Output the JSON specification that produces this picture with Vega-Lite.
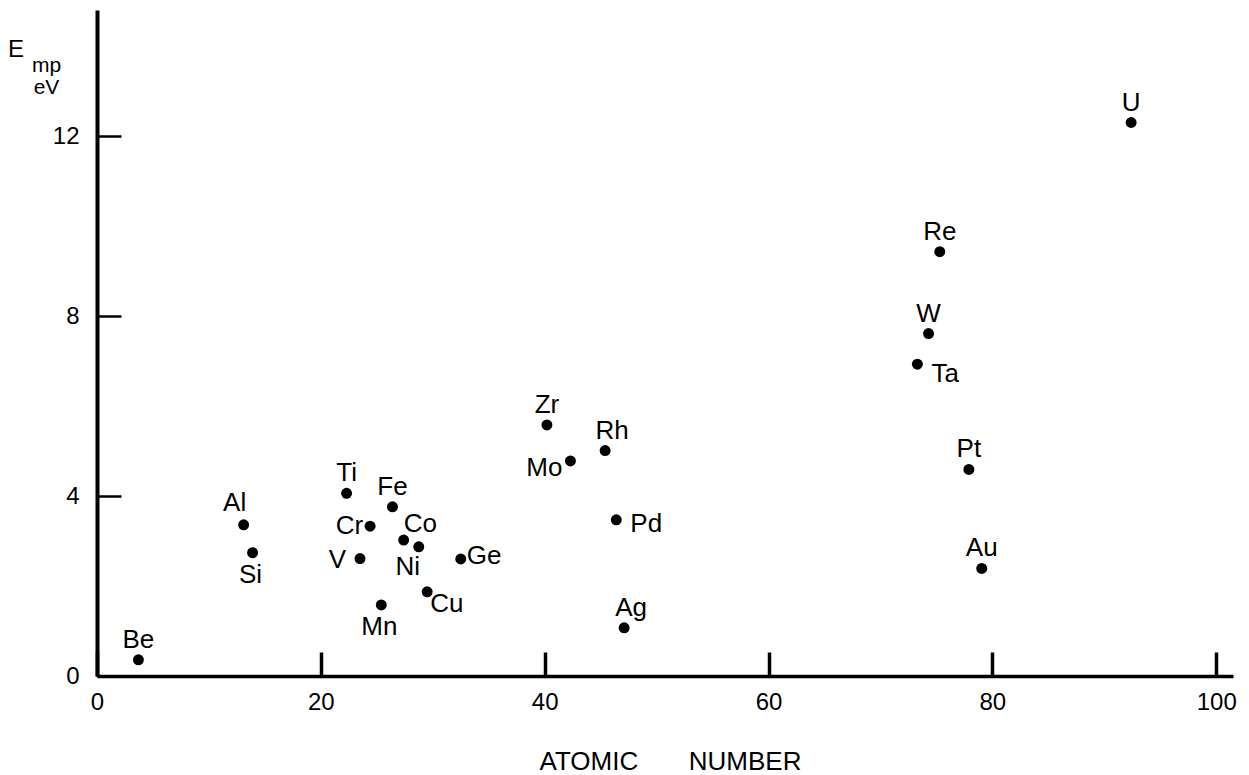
{
  "$schema": "https://vega.github.io/schema/vega-lite/v6.json",
  "autosize": {"type": "none"},
  "padding": {"left": 97, "top": 10, "right": 16, "bottom": 99},
  "width": 1136,
  "height": 666,
  "background": "white",
  "title": {
    "text": "E",
    "anchor": "start",
    "frame": "group",
    "orient": "top",
    "offset": 0,
    "baseline": "alphabetic",
    "dx": -89,
    "dy": 71,
    "font": "Liberation Sans",
    "fontSize": 24,
    "fontWeight": "normal",
    "color": "black"
  },
  "config": {
    "view": {"stroke": null},
    "axis": {
      "grid": false,
      "domainColor": "black",
      "tickColor": "black",
      "labelColor": "black",
      "titleColor": "black",
      "labelFont": "Liberation Sans",
      "titleFont": "Liberation Sans",
      "labelFontSize": 24,
      "titleFontWeight": "normal"
    },
    "text": {"font": "Liberation Sans", "fontSize": 26, "color": "black"}
  },
  "data": {
    "values": [
      {"element": "Be", "Z": 3.7, "E": 0.36},
      {"element": "Al", "Z": 13.1, "E": 3.36},
      {"element": "Si", "Z": 13.9, "E": 2.74},
      {"element": "Ti", "Z": 22.3, "E": 4.06},
      {"element": "V", "Z": 23.5, "E": 2.61},
      {"element": "Cr", "Z": 24.4, "E": 3.33},
      {"element": "Mn", "Z": 25.4, "E": 1.58},
      {"element": "Fe", "Z": 26.4, "E": 3.76},
      {"element": "Co", "Z": 27.4, "E": 3.02},
      {"element": "Ni", "Z": 28.75, "E": 2.87},
      {"element": "Cu", "Z": 29.5, "E": 1.87},
      {"element": "Ge", "Z": 32.5, "E": 2.6},
      {"element": "Zr", "Z": 40.2, "E": 5.58},
      {"element": "Mo", "Z": 42.3, "E": 4.78},
      {"element": "Rh", "Z": 45.4, "E": 5.01},
      {"element": "Pd", "Z": 46.4, "E": 3.47},
      {"element": "Ag", "Z": 47.1, "E": 1.07},
      {"element": "Ta", "Z": 73.3, "E": 6.93},
      {"element": "W", "Z": 74.3, "E": 7.61},
      {"element": "Re", "Z": 75.3, "E": 9.43},
      {"element": "Pt", "Z": 77.9, "E": 4.59},
      {"element": "Au", "Z": 79.05, "E": 2.39},
      {"element": "U", "Z": 92.4, "E": 12.3}
    ]
  },
  "encoding": {
    "x": {
      "field": "Z",
      "type": "quantitative",
      "scale": {"domain": [0, 101.5], "nice": false, "zero": false},
      "axis": {
        "values": [0, 20, 40, 60, 80, 100],
        "tickSize": -24,
        "tickWidth": 3.5,
        "domainWidth": 3.5,
        "labelPadding": 38,
        "labelFlush": false,
        "title": "ATOMIC\u00a0\u00a0\u00a0\u00a0\u00a0\u00a0\u00a0NUMBER",
        "titleFontSize": 26,
        "titleX": 573,
        "titleY": 93,
        "titleBaseline": "alphabetic",
        "titleAlign": "center"
      }
    },
    "y": {
      "field": "E",
      "type": "quantitative",
      "scale": {"domain": [0, 14.8], "nice": false, "zero": true},
      "axis": {
        "values": [0, 4, 8, 12],
        "tickSize": -24,
        "tickWidth": 2.5,
        "domainWidth": 4,
        "labelPadding": 42,
        "labelFlush": false,
        "title": ["mp", "eV"],
        "titleFontSize": 21,
        "titleAngle": 0,
        "titleAlign": "center",
        "titleBaseline": "alphabetic",
        "titleX": -51,
        "titleY": 61,
        "titleLineHeight": 22
      }
    }
  },
  "layer": [
    {"mark": {"type": "point", "filled": true, "color": "black", "opacity": 1, "size": 120}},
    {
      "transform": [{"filter": {"field": "element", "oneOf": ["Be", "Ti", "Fe", "Zr", "W", "Pt", "Au", "Re", "U"]}}],
      "mark": {"type": "text", "align": "center", "baseline": "alphabetic", "dx": 0, "dy": -12},
      "encoding": {"text": {"field": "element"}}
    },
    {
      "transform": [{"filter": {"field": "element", "equal": "Al"}}],
      "mark": {"type": "text", "align": "center", "baseline": "alphabetic", "dx": -9, "dy": -14},
      "encoding": {"text": {"field": "element"}}
    },
    {
      "transform": [{"filter": {"field": "element", "oneOf": ["Rh", "Ag"]}}],
      "mark": {"type": "text", "align": "center", "baseline": "alphabetic", "dx": 7, "dy": -12},
      "encoding": {"text": {"field": "element"}}
    },
    {
      "transform": [{"filter": {"field": "element", "oneOf": ["Si", "Mn"]}}],
      "mark": {"type": "text", "align": "center", "baseline": "alphabetic", "dx": -2, "dy": 30},
      "encoding": {"text": {"field": "element"}}
    },
    {
      "transform": [{"filter": {"field": "element", "equal": "Ni"}}],
      "mark": {"type": "text", "align": "center", "baseline": "alphabetic", "dx": -11, "dy": 28},
      "encoding": {"text": {"field": "element"}}
    },
    {
      "transform": [{"filter": {"field": "element", "equal": "Cr"}}],
      "mark": {"type": "text", "align": "right", "baseline": "alphabetic", "dx": -7, "dy": 8},
      "encoding": {"text": {"field": "element"}}
    },
    {
      "transform": [{"filter": {"field": "element", "equal": "V"}}],
      "mark": {"type": "text", "align": "right", "baseline": "alphabetic", "dx": -14, "dy": 9},
      "encoding": {"text": {"field": "element"}}
    },
    {
      "transform": [{"filter": {"field": "element", "equal": "Mo"}}],
      "mark": {"type": "text", "align": "right", "baseline": "alphabetic", "dx": -8, "dy": 15},
      "encoding": {"text": {"field": "element"}}
    },
    {
      "transform": [{"filter": {"field": "element", "equal": "Pd"}}],
      "mark": {"type": "text", "align": "left", "baseline": "alphabetic", "dx": 14, "dy": 12},
      "encoding": {"text": {"field": "element"}}
    },
    {
      "transform": [{"filter": {"field": "element", "equal": "Ta"}}],
      "mark": {"type": "text", "align": "left", "baseline": "alphabetic", "dx": 14, "dy": 18},
      "encoding": {"text": {"field": "element"}}
    },
    {
      "transform": [{"filter": {"field": "element", "equal": "Ge"}}],
      "mark": {"type": "text", "align": "left", "baseline": "alphabetic", "dx": 6, "dy": 5},
      "encoding": {"text": {"field": "element"}}
    },
    {
      "transform": [{"filter": {"field": "element", "equal": "Cu"}}],
      "mark": {"type": "text", "align": "left", "baseline": "alphabetic", "dx": 3, "dy": 20},
      "encoding": {"text": {"field": "element"}}
    },
    {
      "transform": [{"filter": {"field": "element", "equal": "Co"}}],
      "mark": {"type": "text", "align": "left", "baseline": "alphabetic", "dx": 0, "dy": -8},
      "encoding": {"text": {"field": "element"}}
    }
  ]
}
